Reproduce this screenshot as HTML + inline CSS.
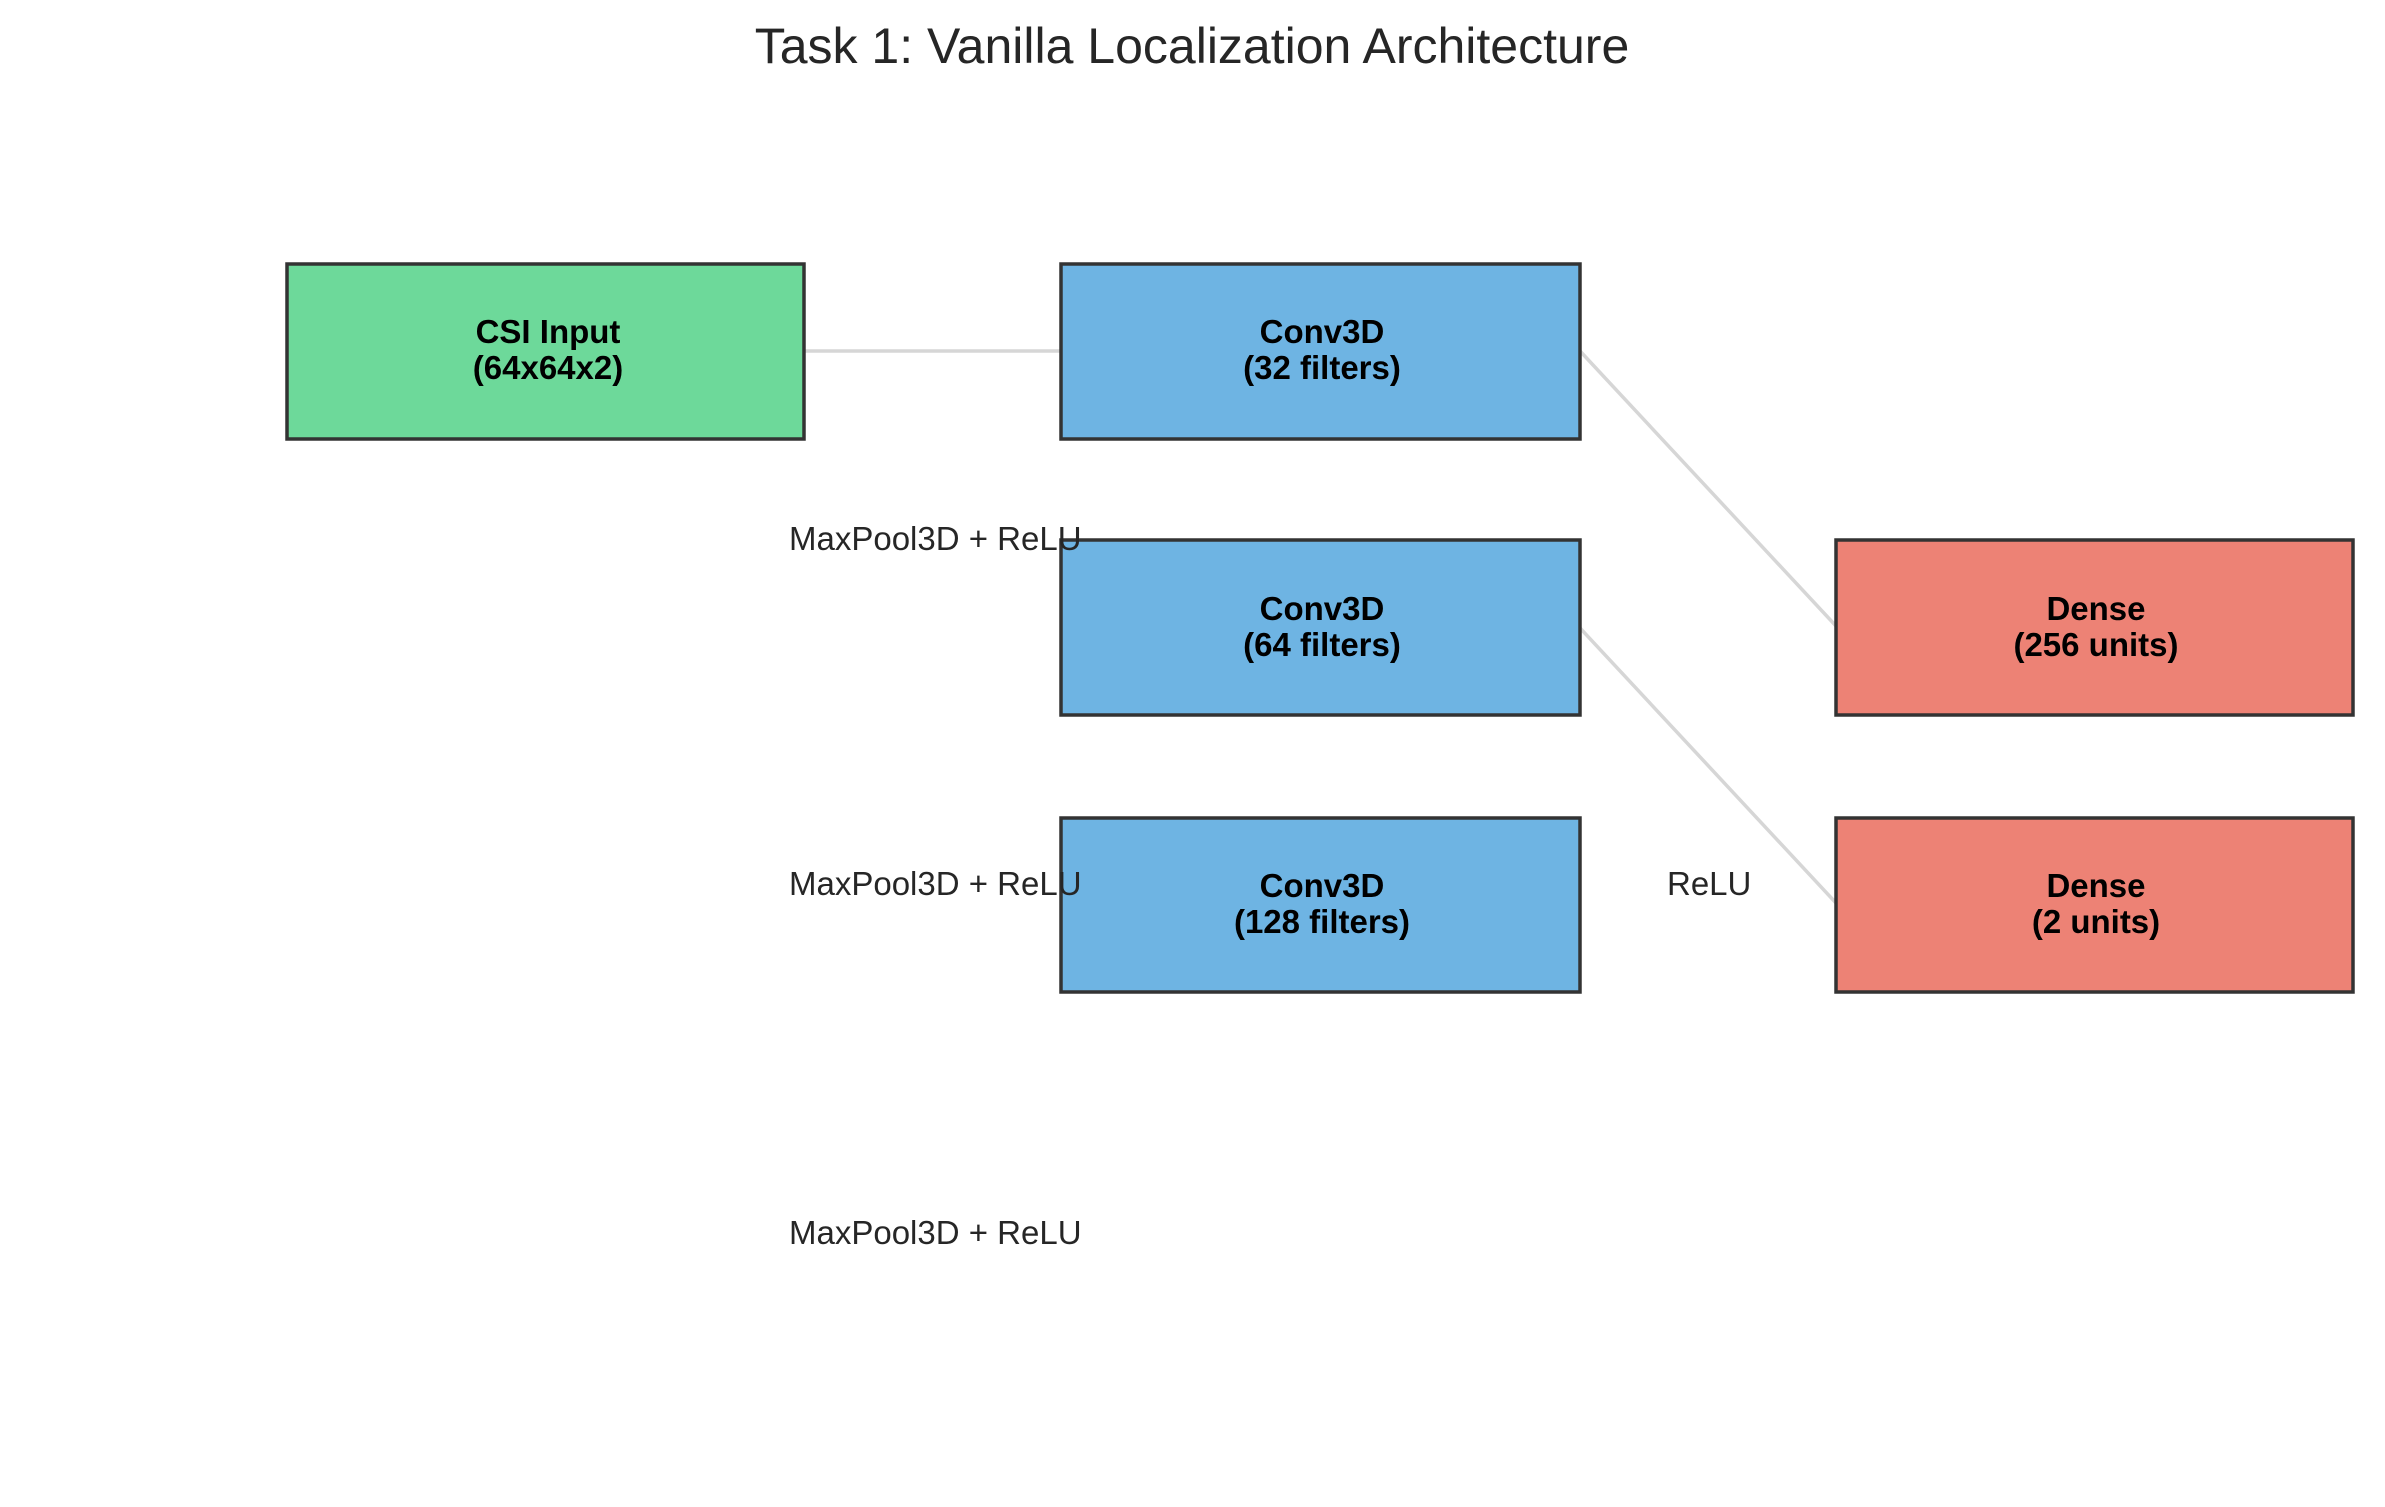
<!DOCTYPE html>
<html><head><meta charset="utf-8"><style>
body{margin:0;background:#fff;}
svg{display:block}
</style></head><body>
<svg width="2385" height="1507" xmlns="http://www.w3.org/2000/svg" font-family="Liberation Sans, Arial, sans-serif">
<rect width="2385" height="1507" fill="#fff"/>
<text x="1192" y="63" font-size="50" text-anchor="middle" fill="#262626">Task 1: Vanilla Localization Architecture</text>
<g stroke="#d6d6d6" stroke-width="3.5" fill="none">
<line x1="804" y1="351" x2="1061" y2="351"/>
<line x1="1580" y1="351" x2="1836" y2="626"/>
<line x1="1580" y1="628" x2="1836" y2="903"/>
</g>
<g stroke="#333" stroke-width="3.5">
<rect x="287" y="264" width="517" height="175" fill="#6dd99a"/>
<rect x="1061" y="264" width="519" height="175" fill="#6eb4e3"/>
<rect x="1061" y="540" width="519" height="175" fill="#6eb4e3"/>
<rect x="1061" y="818" width="519" height="174" fill="#6eb4e3"/>
<rect x="1836" y="540" width="517" height="175" fill="#ed8275"/>
<rect x="1836" y="818" width="517" height="174" fill="#ed8275"/>
</g>
<g font-size="33" font-weight="bold" text-anchor="middle" fill="#000">
<text x="548" y="343">CSI Input</text><text x="548" y="379">(64x64x2)</text>
<text x="1322" y="343">Conv3D</text><text x="1322" y="379">(32 filters)</text>
<text x="1322" y="620">Conv3D</text><text x="1322" y="656">(64 filters)</text>
<text x="1322" y="897">Conv3D</text><text x="1322" y="933">(128 filters)</text>
<text x="2096" y="620">Dense</text><text x="2096" y="656">(256 units)</text>
<text x="2096" y="897">Dense</text><text x="2096" y="933">(2 units)</text>
</g>
<g font-size="33" fill="#262626">
<text x="789" y="550">MaxPool3D + ReLU</text>
<text x="789" y="895">MaxPool3D + ReLU</text>
<text x="789" y="1244">MaxPool3D + ReLU</text>
<text x="1667" y="895">ReLU</text>
</g>
</svg>
</body></html>
